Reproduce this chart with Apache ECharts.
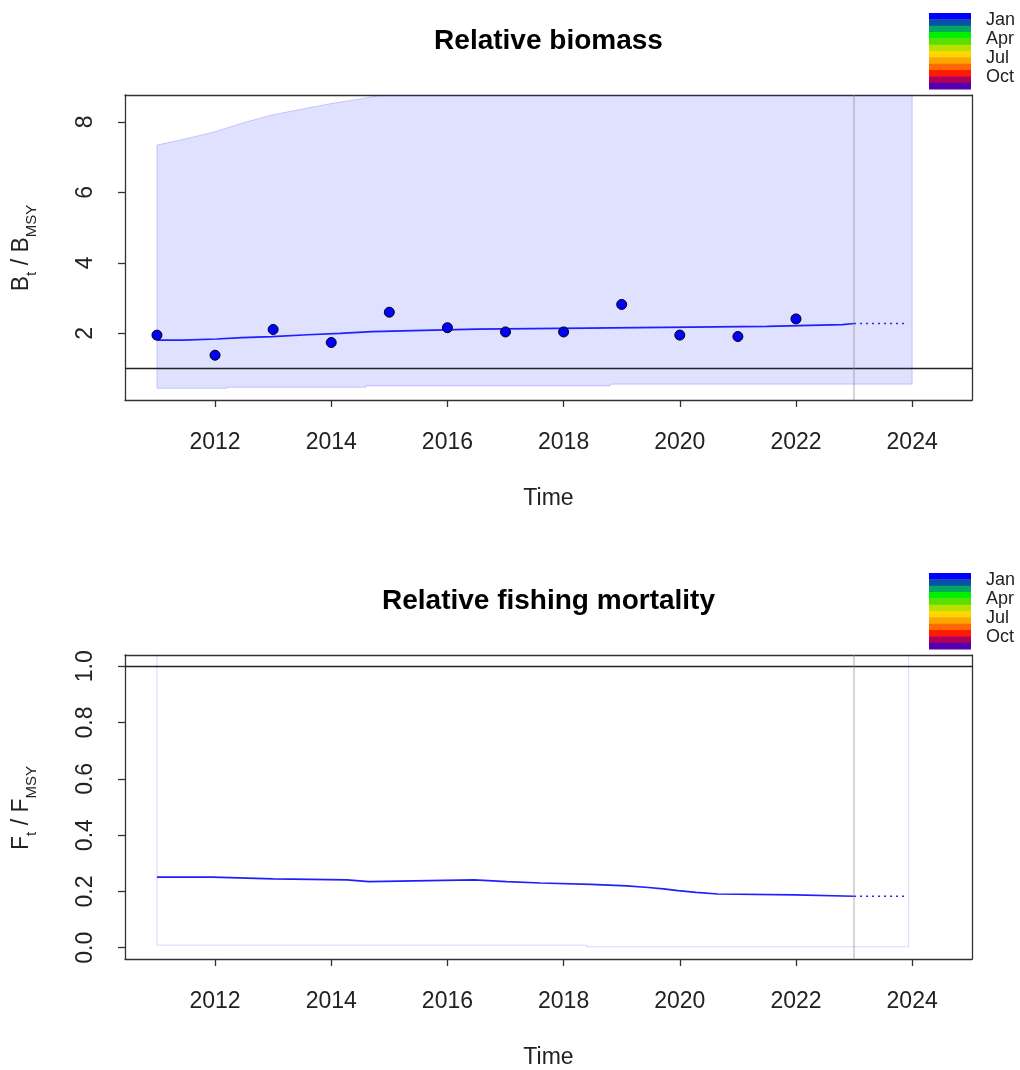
<!DOCTYPE html>
<html>
<head>
<meta charset="utf-8">
<script src="https://cdn.jsdelivr.net/npm/echarts@6/dist/echarts.min.js"></script>
<style>
  html, body { margin: 0; padding: 0; background: #ffffff; }
  #main { width: 1020px; height: 1070px; }
</style>
</head>
<body>
<div id="main"></div>
<script>
// ---- data ----
// observed biomass index (relative to B_MSY), one per year
const indexYears = [2011, 2012, 2013, 2014, 2015, 2016, 2017, 2018, 2019, 2020, 2021, 2022];
const indexValues = [1.95, 1.38, 2.11, 1.74, 2.60, 2.16, 2.04, 2.04, 2.82, 1.95, 1.91, 2.41];

// estimated B/B_MSY (step changes at these times)
const bTimes = [2011, 2011.45, 2012.03, 2012.46, 2012.98, 2013.6, 2014.15, 2014.7, 2015.41, 2016.5, 2018.4, 2021.5, 2022.8, 2023];
const bValues = [1.81, 1.84, 1.88, 1.91, 1.96, 2.00, 2.05, 2.08, 2.12, 2.15, 2.20, 2.25, 2.28, 2.28];
// prediction beyond the last data year
const bPredTimes = [2023, 2023.93];
const bPredValues = [2.28, 2.28];

// B/B_MSY confidence band
const bUpperTimes = [2011, 2011.5, 2012, 2012.5, 2013, 2013.5, 2014, 2014.5, 2015, 2016, 2018, 2020, 2022, 2024];
const bUpperValues = [7.34, 7.52, 7.72, 7.98, 8.20, 8.36, 8.52, 8.65, 8.80, 9.10, 9.60, 10.0, 10.3, 10.5];
const bLowerTimes = [2011, 2012.2, 2014.6, 2018.8, 2024];
const bLowerValues = [0.44, 0.47, 0.51, 0.56, 0.56];

// estimated F/F_MSY (step changes at these times)
const fTimes = [2011, 2011.96, 2013.0, 2014.27, 2014.65, 2016.46, 2017.02, 2017.6, 2018.47, 2019.09, 2019.46, 2019.72, 2019.97, 2020.28, 2020.65, 2021.98, 2023];
const fValues = [0.251, 0.245, 0.241, 0.235, 0.241, 0.235, 0.230, 0.225, 0.220, 0.214, 0.209, 0.203, 0.197, 0.191, 0.188, 0.183, 0.183];
const fPredTimes = [2023, 2023.93];
const fPredValues = [0.183, 0.183];

// F/F_MSY confidence band
const fUpperTimes = [2011, 2023.94];
const fUpperValues = [1.6, 1.6];
const fLowerTimes = [2011, 2018.4, 2023.94];
const fLowerValues = [0.009, 0.0035, 0.0035];

// axis ticks
const xTicks = [2012, 2014, 2016, 2018, 2020, 2022, 2024];
const bTicks = [2, 4, 6, 8];
const fTicks = [0, 0.2, 0.4, 0.6, 0.8, 1.0];
const lastDataYear = 2023;
const refLevel = 1;

// season colour key
const monthColors = ['#0000ff', '#0a4fa8', '#00a860', '#00f000', '#5ae000', '#b8e000',
                     '#ffd700', '#ffa500', '#ff6a00', '#ff1a00', '#b0005a', '#5500b0'];
const monthLabels = ['Jan', 'Apr', 'Jul', 'Oct'];

// ---- helpers ----
const FONT = '"Liberation Sans", Arial, sans-serif';
const INK = '#222222';
const LINE_BLUE = '#2020ff';

const pairs = (xs, ys) => xs.map((x, i) => [x, ys[i]]);

function xAxes(gi) {
  return [{
    gridIndex: gi, type: 'value', position: 'bottom', min: 2010.45, max: 2025.03,
    axisLine: { show: true, onZero: false, lineStyle: { color: '#333', width: 1.3 } },
    axisTick: { show: true, length: 7, customValues: xTicks, lineStyle: { color: '#333', width: 1.3 } },
    axisLabel: { customValues: xTicks, margin: 31, fontSize: 23, color: INK, fontFamily: FONT, formatter: v => String(v) },
    splitLine: { show: false },
    name: 'Time', nameLocation: 'middle', nameGap: 87,
    nameTextStyle: { fontSize: 23, color: INK, fontFamily: FONT }
  }, {
    gridIndex: gi, type: 'value', position: 'top', min: 2010.45, max: 2025.03,
    axisLine: { show: true, onZero: false, lineStyle: { color: '#333', width: 1.3 } },
    axisTick: { show: false }, axisLabel: { show: false }, splitLine: { show: false }
  }];
}

function yAxes(gi, min, max, ticks, fmt) {
  return [{
    gridIndex: gi, type: 'value', position: 'left', min, max,
    axisLine: { show: true, onZero: false, lineStyle: { color: '#333', width: 1.3 } },
    axisTick: { show: true, length: 7, customValues: ticks, lineStyle: { color: '#333', width: 1.3 } },
    axisLabel: { customValues: ticks, rotate: 90, margin: 28, fontSize: 23, color: INK, fontFamily: FONT, formatter: fmt },
    splitLine: { show: false }
  }, {
    gridIndex: gi, type: 'value', position: 'right', min, max,
    axisLine: { show: true, onZero: false, lineStyle: { color: '#333', width: 1.3 } },
    axisTick: { show: false }, axisLabel: { show: false }, splitLine: { show: false }
  }];
}

// confidence polygon: upper bound as a polyline, lower bound as a step function
function bandSeries(axisIdx, upT, upV, loT, loV, fill, stroke) {
  return {
    type: 'custom', xAxisIndex: axisIdx, yAxisIndex: axisIdx, clip: true, silent: true, z: 1,
    data: [[upT[0], upV[0]]],
    encode: { x: 0, y: 1 },
    renderItem: function (params, api) {
      const pts = [];
      for (let i = 0; i < upT.length; i++) pts.push(api.coord([upT[i], upV[i]]));
      for (let i = loT.length - 1; i >= 0; i--) {
        pts.push(api.coord([loT[i], loV[i]]));
        if (i > 0) pts.push(api.coord([loT[i], loV[i - 1]]));
      }
      const cs = params.coordSys;
      return {
        type: 'group',
        clipPath: { type: 'rect', shape: { x: cs.x, y: cs.y, width: cs.width, height: cs.height } },
        children: [{ type: 'polygon', shape: { points: pts }, style: { fill: fill, stroke: stroke, lineWidth: 1 } }]
      };
    }
  };
}

function refLines() {
  return {
    silent: true, symbol: 'none', label: { show: false },
    data: [
      { yAxis: refLevel, lineStyle: { color: '#222', type: 'solid', width: 1.3 } },
      { xAxis: lastDataYear, lineStyle: { color: 'rgba(140,140,140,0.45)', type: 'solid', width: 1.6 } }
    ]
  };
}

function estimateSeries(axisIdx, ts, vs, predT, predV) {
  return [{
    type: 'line', xAxisIndex: axisIdx, yAxisIndex: axisIdx, data: pairs(ts, vs), step: 'end',
    showSymbol: false, symbol: 'none', z: 3, silent: true,
    lineStyle: { color: LINE_BLUE, width: 1.7 },
    markLine: refLines()
  }, {
    type: 'line', xAxisIndex: axisIdx, yAxisIndex: axisIdx, data: pairs(predT, predV),
    showSymbol: false, symbol: 'none', z: 3, silent: true,
    lineStyle: { color: LINE_BLUE, width: 1.7, type: [2, 4] }
  }];
}

// ---- decorations: titles, y labels with subscripts, season keys ----
const graphics = [];
function title(text, y) {
  graphics.push({
    type: 'text', x: 548.5, y: y, silent: true,
    style: { text: text, fill: '#000', font: 'bold 28px ' + FONT, textAlign: 'center', textVerticalAlign: 'middle' }
  });
}
function yName(letter, y) {
  graphics.push({
    type: 'text', x: 24, y: y, rotation: Math.PI / 2, silent: true,
    style: {
      text: '{b|' + letter + '}{s|t}{b| / ' + letter + '}{s|MSY}',
      textAlign: 'center', textVerticalAlign: 'middle', fill: INK,
      rich: {
        b: { fontSize: 23, fontFamily: FONT, fill: INK, verticalAlign: 'bottom', lineHeight: 30, padding: [0, 0, 6, 0] },
        s: { fontSize: 15, fontFamily: FONT, fill: INK, verticalAlign: 'bottom', lineHeight: 20, padding: [0, 0, 0, 0] }
      }
    }
  });
}
function seasonKey(top) {
  const h = 76 / monthColors.length;
  monthColors.forEach((c, i) => {
    graphics.push({
      type: 'rect', silent: true,
      shape: { x: 929, y: top + i * h, width: 42, height: h + 0.5 },
      style: { fill: c }
    });
  });
  monthLabels.forEach((t, i) => {
    graphics.push({
      type: 'text', x: 986, y: top + 7 + i * 19, silent: true,
      style: { text: t, fill: INK, font: '18px ' + FONT, textAlign: 'left', textVerticalAlign: 'middle' }
    });
  });
}
title('Relative biomass', 41);
title('Relative fishing mortality', 601);
yName('B', 248);
yName('F', 808);
seasonKey(13);
seasonKey(573);

// ---- chart ----
const chart = echarts.init(document.getElementById('main'), null, { renderer: 'canvas' });
chart.setOption({
  animation: false,
  backgroundColor: '#ffffff',
  grid: [
    { left: 125, top: 95, width: 847, height: 305, containLabel: false },
    { left: 125, top: 655, width: 847, height: 304, containLabel: false }
  ],
  xAxis: [...xAxes(0), ...xAxes(1)],
  yAxis: [
    ...yAxes(0, 0.11, 8.76, bTicks, v => String(v)),
    ...yAxes(1, -0.04, 1.04, fTicks, v => v.toFixed(1))
  ],
  graphic: graphics,
  series: [
    bandSeries(0, bUpperTimes, bUpperValues, bLowerTimes, bLowerValues, 'rgba(0,0,255,0.12)', 'rgba(0,0,255,0.18)'),
    ...estimateSeries(0, bTimes, bValues, bPredTimes, bPredValues),
    {
      type: 'scatter', xAxisIndex: 0, yAxisIndex: 0, data: pairs(indexYears, indexValues),
      symbol: 'circle', symbolSize: 10, z: 4, silent: true,
      itemStyle: { color: '#0000ff', opacity: 1, borderColor: '#000', borderWidth: 1 }
    },
    bandSeries(2, fUpperTimes, fUpperValues, fLowerTimes, fLowerValues, 'rgba(0,0,255,0)', 'rgba(0,0,255,0.16)'),
    ...estimateSeries(2, fTimes, fValues, fPredTimes, fPredValues)
  ]
});
</script>
</body>
</html>
